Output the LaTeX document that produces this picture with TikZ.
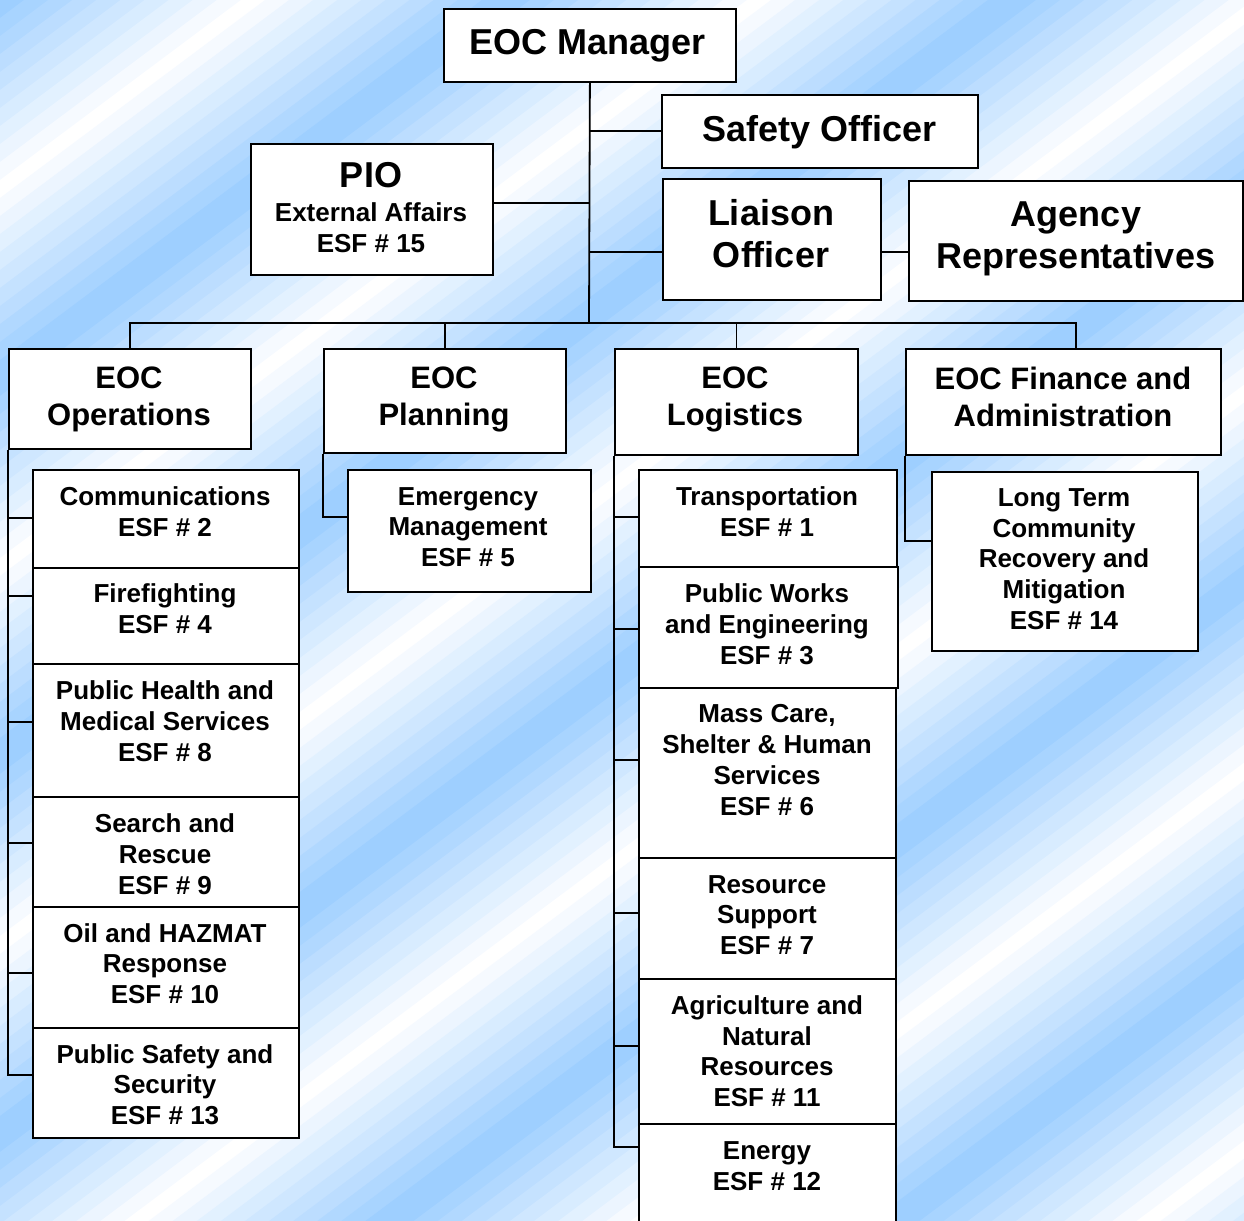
\documentclass[tikz,border=0pt]{standalone}
\usepackage{fontspec}
\setmainfont{Liberation Sans}
\definecolor{bgblue}{RGB}{153,204,255}
\newcommand\bx[5]{\node[box,minimum width=#4pt,minimum height=#5pt] (#1) at (#2,#3) {};}
\begin{document}
\begin{tikzpicture}[x=1pt,y=-1pt,
  box/.style={draw=black, line width=1.8pt, fill=white, inner sep=0pt, anchor=north west},
  conn/.style={draw=black, line width=1.8pt},
  txt/.style={align=center, inner sep=0pt, text depth=0pt, text=black},
  tA/.style={txt, font=\bfseries\fontsize{36}{42}\selectfont},
  tB/.style={txt, font=\bfseries\fontsize{31}{37}\selectfont},
  tC/.style={txt, font=\bfseries\fontsize{26}{30.8}\selectfont},
]
\useasboundingbox (0,0) rectangle (1244,1220);
\clip (0,0) rectangle (1244,1220);
% background: stepped diagonal gradient
\foreach \i in {0,...,123} {
  \pgfmathsetmacro{\ua}{\i*18}
  \pgfmathsetmacro{\ub}{\ua+19}
  \pgfmathsetmacro{\ph}{mod(\ua+9,378)/378}
  \pgfmathtruncatemacro{\bl}{100*(1-2*min(\ph,1-\ph))}
  \fill[bgblue!\bl!white] (0,\ua) -- (1244,\ua-929.3) -- (1244,\ub-929.3) -- (0,\ub) -- cycle;
}
% boxes
\bx{mgr}{443}{8}{292}{73}
\bx{safety}{661}{94}{316}{73}
\bx{liaison}{662}{178}{218}{121}
\bx{agency}{908}{180}{334}{120}
\bx{pio}{250}{143}{242}{131}
\bx{ops}{8}{348}{242}{100}
\bx{plan}{323}{348}{242}{104}
\bx{log}{614}{348}{243}{106}
\bx{fin}{905}{348}{315}{106}
\bx{comm}{32}{469}{266}{98}
\bx{fire}{32}{567}{266}{96}
\bx{ph}{32}{663}{266}{133}
\bx{sr}{32}{796}{266}{110}
\bx{oil}{32}{906}{266}{121}
\bx{ps}{32}{1027}{266}{110}
\bx{em}{347}{469}{243}{122}
\bx{tr}{638}{469}{258}{97}
\bx{pw}{638}{566}{259}{121}
\bx{mc}{638}{687}{257}{170}
\bx{rs}{638}{857}{257}{121}
\bx{ag}{638}{978}{257}{145}
\bx{en}{638}{1123}{257}{130}
\bx{lt}{931}{471}{266}{179}
% connectors
\coordinate (hub) at (589,323);
\draw[conn] (mgr.south) -- (hub);
\draw[conn] (ops.north) |- (hub) -| ([xshift=12.5pt]fin.north);
\draw[conn] (plan.north) -- (plan.north |- hub);
\draw[conn] (log.north) -- (log.north |- hub);
\draw[conn] (safety.west) -- (safety.west -| hub);
\coordinate (lin) at ([yshift=-12.5pt]liaison.west);
\draw[conn] (lin) -- (lin -| hub);
\draw[conn] (lin -| liaison.east) -- (lin -| agency.west);
\coordinate (pin) at ([yshift=6.5pt]pio.east);
\draw[conn] (pin) -- (pin -| hub);
\draw[conn] (ops.south west) |- ([yshift=-49pt]comm.north west);
\draw[conn] (ops.south west) |- ([yshift=-29pt]fire.north west);
\draw[conn] (ops.south west) |- ([yshift=-59pt]ph.north west);
\draw[conn] (ops.south west) |- ([yshift=-47pt]sr.north west);
\draw[conn] (ops.south west) |- ([yshift=-67pt]oil.north west);
\draw[conn] (ops.south west) |- ([yshift=-48pt]ps.north west);
\draw[conn] (plan.south west) |- ([yshift=-48pt]em.north west);
\draw[conn] (log.south west) |- ([yshift=-48pt]tr.north west);
\draw[conn] (log.south west) |- ([yshift=-63pt]pw.north west);
\draw[conn] (log.south west) |- ([yshift=-73pt]mc.north west);
\draw[conn] (log.south west) |- ([yshift=-56pt]rs.north west);
\draw[conn] (log.south west) |- ([yshift=-68pt]ag.north west);
\draw[conn] (log.south west) |- ([yshift=-24pt]en.north west);
\draw[conn] (fin.south west) |- ([yshift=-70pt]lt.north west);
% texts
\node[tA] (mgr-t) at (588,42) {EOC Manager};
\node[tA] (safety-t) at (820,128) {Safety Officer};
\node[tA] (liaison-t) at (771,233) {Liaison\\Officer};
\node[tA] (agency-t) at (1076,235) {Agency\\Representatives};
\node[tA] (pio-t) at (371,175) {PIO};
\node[tC] (pio-t2) at (371,227.5) {External Affairs\\ESF \# 15};
\node[tB] (ops-t) at (129,396.5) {EOC\\Operations};
\node[tB] (plan-t) at (444,396.5) {EOC\\Planning};
\node[tB] (log-t) at (735,396.5) {EOC\\Logistics};
\node[tB] (fin-t) at (1063,396.5) {EOC Finance and\\Administration};
\node[tC] (comm-t) at (165,511.5) {Communications\\ESF \# 2};
\node[tC] (fire-t) at (165,608.5) {Firefighting\\ESF \# 4};
\node[tC] (ph-t) at (165,721) {Public Health and\\Medical Services\\ESF \# 8};
\node[tC] (sr-t) at (165,854) {Search and\\Rescue\\ESF \# 9};
\node[tC] (oil-t) at (165,963.5) {Oil and HAZMAT\\Response\\ESF \# 10};
\node[tC] (ps-t) at (165,1084.5) {Public Safety and\\Security\\ESF \# 13};
\node[tC] (em-t) at (468,527) {Emergency\\Management\\ESF \# 5};
\node[tC] (tr-t) at (767,511.5) {Transportation\\ESF \# 1};
\node[tC] (pw-t) at (767,624) {Public Works\\and Engineering\\ESF \# 3};
\node[tC] (mc-t) at (767,760) {Mass Care,\\Shelter \& Human\\Services\\ESF \# 6};
\node[tC] (rs-t) at (767,915) {Resource\\Support\\ESF \# 7};
\node[tC] (ag-t) at (767,1051) {Agriculture and\\Natural\\Resources\\ESF \# 11};
\node[tC] (en-t) at (767,1166) {Energy\\ESF \# 12};
\node[tC] (lt-t) at (1064,559) {Long Term\\Community\\Recovery and\\Mitigation\\ESF \# 14};
\end{tikzpicture}
\end{document}
